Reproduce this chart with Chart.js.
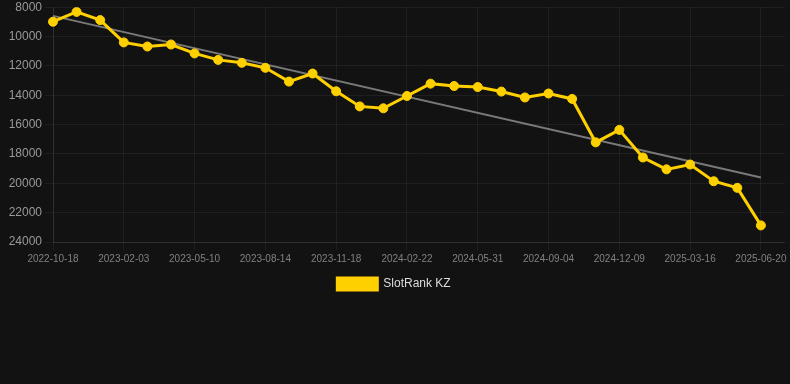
<!DOCTYPE html>
<html>
<head>
<meta charset="utf-8">
<script src="https://cdn.jsdelivr.net/npm/chart.js@4/dist/chart.umd.min.js"></script>
<style>
  html, body { margin: 0; padding: 0; background: #121212; }
  #wrap { position: relative; width: 790px; height: 300px; }
</style>
</head>
<body>
<div id="wrap"><canvas id="c"></canvas></div>
<script>
const categories = [
  "2022-10-18", "2022-11-23", "2022-12-29", "2023-02-03", "2023-03-07", "2023-04-08",
  "2023-05-10", "2023-06-11", "2023-07-13", "2023-08-14", "2023-09-15", "2023-10-17",
  "2023-11-18", "2023-12-20", "2024-01-21", "2024-02-22", "2024-03-25", "2024-04-28",
  "2024-05-31", "2024-07-02", "2024-08-03", "2024-09-04", "2024-10-06", "2024-11-07",
  "2024-12-09", "2025-01-10", "2025-02-11", "2025-03-16", "2025-04-17", "2025-05-19",
  "2025-06-20", "2025-07-22"
];
const rankValues = [
  8990, 8320, 8880, 10400, 10680, 10540, 11150, 11590, 11790, 12130, 13070, 12520,
  13730, 14760, 14890, 14050, 13210, 13370, 13440, 13750, 14150, 13880, 14250, 17210,
  16360, 18240, 19050, 18720, 19860, 20310, 22870, null
];
const trendStart = 8590;
const trendEnd = 19610;
const yTicks = { min: 8000, max: 24000, step: 2000 };
const seriesName = "SlotRank KZ";

const trendValues = categories.map((_, i) => i === 0 ? trendStart : (i === 30 ? trendEnd : null));

Chart.defaults.font.family = "'Liberation Sans', Arial, Helvetica, sans-serif";

new Chart(document.getElementById('c'), {
  type: 'line',
  data: {
    labels: categories,
    datasets: [
      {
        label: seriesName,
        data: rankValues,
        borderColor: '#FFD000',
        backgroundColor: '#FFD000',
        borderWidth: 3,
        pointRadius: 4.5,
        pointHoverRadius: 4.5,
        pointBorderWidth: 1,
        pointBackgroundColor: '#FFD000',
        pointBorderColor: '#FFD000',
        tension: 0,
        order: 1
      },
      {
        label: 'trend',
        data: trendValues,
        borderColor: 'rgba(140,140,140,0.85)',
        borderWidth: 2,
        pointRadius: 0,
        spanGaps: true,
        tension: 0,
        order: 2
      }
    ]
  },
  options: {
    responsive: true,
    maintainAspectRatio: false,
    animation: false,
    layout: { padding: { top: 0, right: 2, left: 0, bottom: 0 } },
    plugins: {
      legend: {
        position: 'bottom',
        labels: {
          color: '#dddddd',
          font: { size: 12 },
          boxWidth: 40,
          boxHeight: 12,
          filter: (item) => item.datasetIndex === 0
        }
      },
      tooltip: { enabled: false }
    },
    scales: {
      x: {
        offset: false,
        grid: { color: 'rgba(255,255,255,0.06)', tickLength: 8 },
        border: { color: 'rgba(255,255,255,0.08)' },
        ticks: {
          color: '#808080',
          font: { size: 10 },
          maxRotation: 0,
          autoSkip: true,
          padding: 3
        }
      },
      y: {
        reverse: true,
        min: yTicks.min,
        max: yTicks.max,
        afterFit: (scale) => { scale.width = 53; },
        grid: { color: 'rgba(255,255,255,0.06)', tickLength: 8 },
        border: { color: 'rgba(255,255,255,0.08)' },
        ticks: {
          stepSize: yTicks.step,
          color: '#999999',
          font: { size: 12, lineHeight: 0.7 },
          padding: 3,
          callback: (v) => String(v)
        }
      }
    }
  }
});
</script>
</body>
</html>
